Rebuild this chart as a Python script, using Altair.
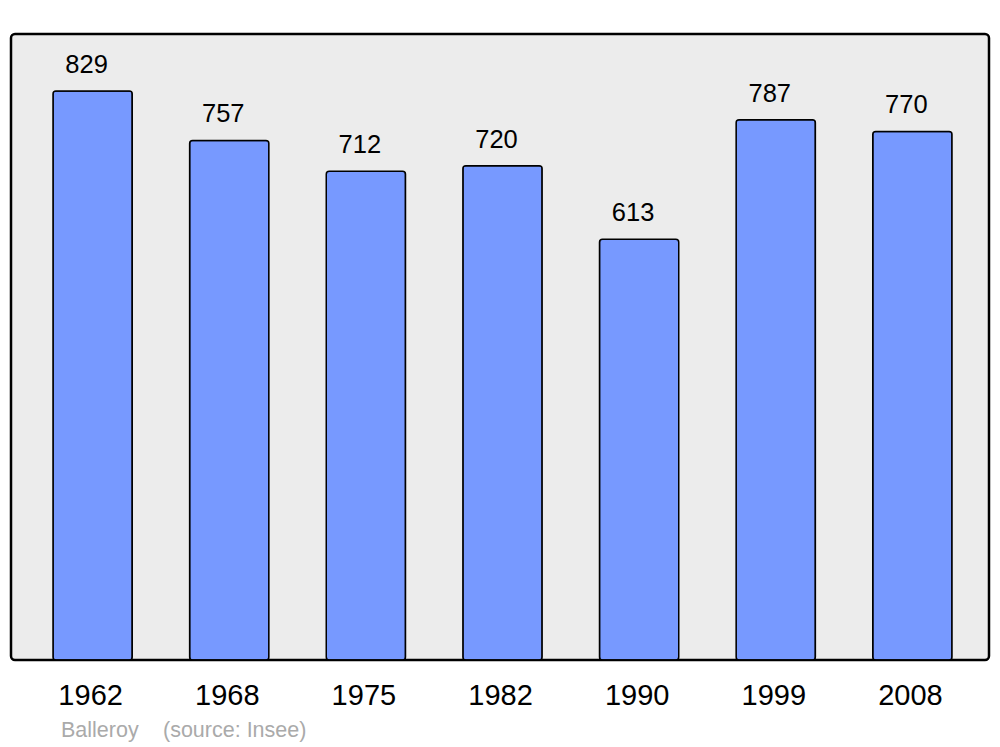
import altair as alt
import pandas as pd

years = ["1962", "1968", "1975", "1982", "1990", "1999", "2008"]
population = [829, 757, 712, 720, 613, 787, 770]

df = pd.DataFrame({"year": years, "pop": population})

FONT = "Liberation Sans"

xscale = alt.Scale(range=[42, 941], paddingInner=0.42, paddingOuter=0)
yscale = alt.Scale(domain=[0, 912], nice=False, zero=True)

base = alt.Chart(df)

bars = base.mark_bar(
    color="#7799ff", stroke="black", strokeWidth=1.5, cornerRadius=3
).encode(
    x=alt.X("year:N", scale=xscale, sort=years,
            axis=alt.Axis(title=None, domain=False, ticks=False, tickSize=0,
                          labelFontSize=29, labelFont=FONT, labelColor="black",
                          labelAngle=0, labelBaseline="alphabetic",
                          labelPadding=44, labelOffset=-2)),
    y=alt.Y("pop:Q", scale=yscale, axis=None),
)

labels = base.mark_text(
    font=FONT, fontSize=25.5, color="black", baseline="alphabetic", dy=-18, dx=-6
).encode(
    x=alt.X("year:N", scale=xscale, sort=years),
    y=alt.Y("pop:Q", scale=yscale),
    text="pop:Q",
)

footer_df = pd.DataFrame({"t": ["Balleroy", "(source: Insee)"], "px": [50, 152]})
footer = alt.Chart(footer_df).mark_text(
    font=FONT, fontSize=21.5, color="#aaaaaa", align="left", baseline="alphabetic"
).encode(
    x=alt.X("px:Q", scale=None),
    y=alt.value(703),
    text="t:N",
)

chart = alt.layer(bars, labels, footer).properties(
    width=978, height=626,
    autosize=alt.AutoSizeParams(type="none"),
    padding={"left": 3, "top": 26, "right": 3, "bottom": 84},
).configure(
    background="white",
    view=alt.ViewConfig(fill="#ececec", stroke="black", strokeWidth=2.5, cornerRadius=4),
)

chart.save("out.html", embed_options={"renderer": "svg", "actions": False})
